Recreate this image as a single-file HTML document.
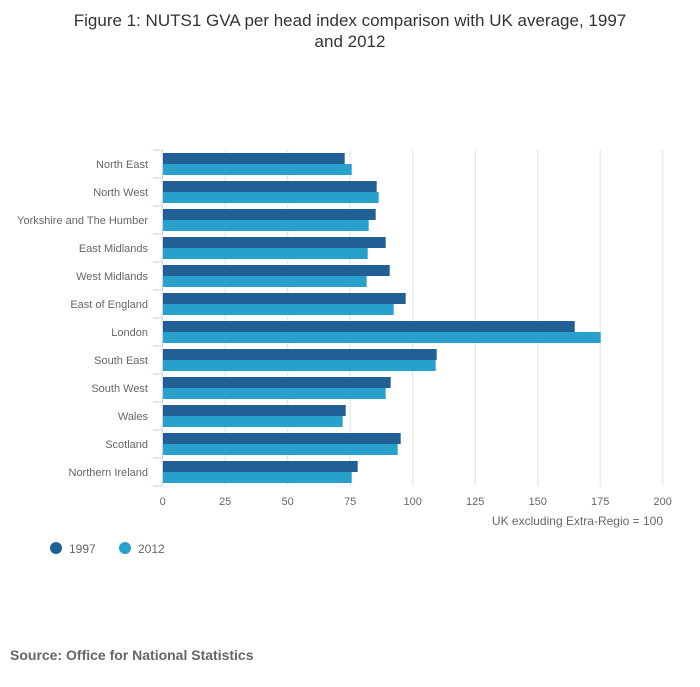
<!DOCTYPE html>
<html><head><meta charset="utf-8"><style>
body{margin:0;background:#fff;font-family:"Liberation Sans",sans-serif;}
</style></head><body>
<svg width="700" height="682" xmlns="http://www.w3.org/2000/svg">
<text x="350" y="26" text-anchor="middle" font-size="17" fill="#333">Figure 1: NUTS1 GVA per head index comparison with UK average, 1997</text>
<text x="350" y="47" text-anchor="middle" font-size="17" fill="#333">and 2012</text>
<g id="plot"></g>
<text x="663" y="525" text-anchor="end" font-size="12" fill="#666">UK excluding Extra-Regio = 100</text>
<g>
<circle cx="56" cy="548" r="6" fill="#206095"/>
<text x="69" y="553" font-size="12" fill="#666">1997</text>
<circle cx="125" cy="548" r="6" fill="#27a0cc"/>
<text x="138" y="553" font-size="12" fill="#666">2012</text>
</g>
<text x="10" y="660" font-size="14" font-weight="bold" fill="#666">Source: Office for National Statistics</text>
</svg>
<script>
const categories=["North East","North West","Yorkshire and The Humber","East Midlands","West Midlands","East of England","London","South East","South West","Wales","Scotland","Northern Ireland"];
const values1997=[72.8,85.6,85.2,89.2,90.8,97.2,164.8,109.6,91.2,73.2,95.2,78];
const values2012=[75.6,86.4,82.4,82,81.6,92.4,175.2,109.2,89.2,72,94,75.6];
const ticks=[0,25,50,75,100,125,150,175,200];
const NS="http://www.w3.org/2000/svg";
const plotG=document.getElementById('plot');
const x0=162.7,xs=2.5,plotTop=150,rowH=28;
const X=v=>x0+v*xs;
function mk(t,a){const e=document.createElementNS(NS,t);for(const k in a)e.setAttribute(k,a[k]);plotG.appendChild(e);return e;}
ticks.forEach(t=>{
 if(t>0){const l=mk('line',{x1:X(t),x2:X(t),y1:plotTop,y2:plotTop+rowH*categories.length,stroke:'#e2e2e2','stroke-width':1});
 
 }
 const tx=mk('text',{x:X(t),y:505,'text-anchor':'middle','font-size':11,fill:'#666'});tx.textContent=t;
 
 
});
categories.forEach((c,i)=>{
 const y=plotTop+i*rowH;
 const b1=mk('rect',{x:x0,y:y+3,width:values1997[i]*xs,height:11,fill:'#206095'});
 
 
 const b2=mk('rect',{x:x0,y:y+14,width:values2012[i]*xs,height:11,fill:'#27a0cc'});
 
 
 const tk=mk('line',{x1:153,x2:163,y1:y,y2:y,stroke:'#ccd6eb'});
 
 
 const lb=mk('text',{x:148,y:y+18,'text-anchor':'end','font-size':11,fill:'#666'});lb.textContent=c;
 
 
});
const ax=mk('line',{x1:162.5,x2:162.5,y1:plotTop,y2:plotTop+rowH*categories.length,stroke:'#ccd6eb'});


const bt=mk('line',{x1:153,x2:163,y1:plotTop+rowH*12,y2:plotTop+rowH*12,stroke:'#ccd6eb'});


</script>
</body></html>
